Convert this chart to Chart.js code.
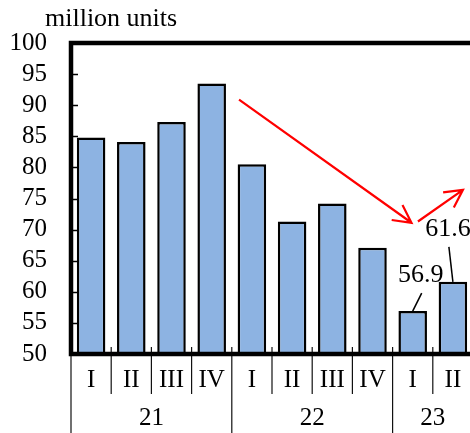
<!DOCTYPE html>
<html>
<head>
<meta charset="utf-8">
<script src="https://cdn.jsdelivr.net/npm/chart.js@4/dist/chart.umd.min.js"></script>
<style>
  html, body { margin: 0; padding: 0; background: #fff; overflow: hidden; }
  #wrap { width: 480px; height: 433px; position: relative; }
</style>
</head>
<body>
<div id="wrap"><canvas id="c" width="480" height="433"></canvas></div>
<script>
// Quarterly sales, million units
const quarters = ['I', 'II', 'III', 'IV', 'I', 'II', 'III', 'IV', 'I', 'II'];
const yearLabels = ['21', '22', '23'];
const yearFirstIndex = [0, 4, 8];
const yearLastIndex = [3, 7, 9];
const sales = [84.8, 84.1, 87.3, 93.5, 80.5, 71.3, 74.2, 67.1, 56.9, 61.6];
const yMin = 50;
const yMax = 100;
const yStep = 5;
const calloutIndices = [8, 9];
// trend arrows in data space: [category index, value]
const arrowFrom = [[3.68, 90.9], [8.13, 71.3]];
const arrowTo = [[7.97, 71.1], [9.25, 76.4]];

const SERIF = '"Liberation Serif", "Times New Roman", serif';

const decorations = {
  id: 'decorations',
  afterDatasetsDraw(chart) {
    const ctx = chart.ctx;
    const area = chart.chartArea;
    const xs = chart.scales.x;
    const ys = chart.scales.y;
    const half = (xs.getPixelForValue(1) - xs.getPixelForValue(0)) / 2;
    ctx.save();

    // inward y ticks
    ctx.strokeStyle = '#000';
    ctx.lineWidth = 1.5;
    for (let v = yMin + yStep; v < yMax; v += yStep) {
      const py = Math.round(ys.getPixelForValue(v)) + 0.5;
      ctx.beginPath();
      ctx.moveTo(area.left, py);
      ctx.lineTo(area.left + 7, py);
      ctx.stroke();
    }

    // category boundaries: small ticks above the axis, separators below
    ctx.lineWidth = 1.2;
    ctx.strokeStyle = '#111';
    for (let i = 0; i <= quarters.length; i++) {
      const px = xs.getPixelForValue(i) - half;
      const isYearEdge = yearFirstIndex.includes(i) || i === quarters.length;
      ctx.beginPath();
      ctx.moveTo(px, area.bottom - 7);
      ctx.lineTo(px, area.bottom);
      ctx.stroke();
      ctx.beginPath();
      ctx.moveTo(px, area.bottom);
      ctx.lineTo(px, isYearEdge ? chart.height : area.bottom + 40);
      ctx.stroke();
    }

    // year labels
    ctx.fillStyle = '#000';
    ctx.font = '25px ' + SERIF;
    ctx.textAlign = 'center';
    ctx.textBaseline = 'middle';
    yearLabels.forEach((lab, k) => {
      const cx = (xs.getPixelForValue(yearFirstIndex[k]) + xs.getPixelForValue(yearLastIndex[k])) / 2;
      ctx.fillText(lab, cx, area.bottom + 64);
    });

    // plot frame
    ctx.strokeStyle = '#000';
    ctx.lineWidth = 4.5;
    ctx.lineCap = 'square';
    ctx.beginPath();
    ctx.moveTo(area.right, area.top);
    ctx.lineTo(area.left, area.top);
    ctx.lineTo(area.left, area.bottom);
    ctx.lineTo(area.right, area.bottom);
    ctx.stroke();
    ctx.lineCap = 'butt';

    // value callouts with leader lines
    const meta = chart.getDatasetMeta(0);
    const placements = { 8: { tx: 8, ty: -36, lx: 9, ly: -18 }, 9: { tx: -5, ty: -53, lx: -4, ly: -35 } };
    ctx.font = '26px ' + SERIF;
    ctx.lineWidth = 1.5;
    calloutIndices.forEach(i => {
      const bar = meta.data[i];
      const p = placements[i];
      ctx.beginPath();
      ctx.moveTo(bar.x + p.lx, bar.y + p.ly);
      ctx.lineTo(bar.x, bar.y);
      ctx.stroke();
      ctx.fillText(sales[i].toFixed(1), bar.x + p.tx, bar.y + p.ty);
    });

    // red trend arrows
    ctx.strokeStyle = '#ff0000';
    ctx.lineWidth = 2.2;
    ctx.lineJoin = 'miter';
    for (let k = 0; k < arrowFrom.length; k++) {
      const x1 = xs.getPixelForValue(arrowFrom[k][0]);
      const y1 = ys.getPixelForValue(arrowFrom[k][1]);
      const x2 = xs.getPixelForValue(arrowTo[k][0]);
      const y2 = ys.getPixelForValue(arrowTo[k][1]);
      const ang = Math.atan2(y2 - y1, x2 - x1);
      const head = 20, spread = Math.PI / 6.5;
      ctx.beginPath();
      ctx.moveTo(x1, y1);
      ctx.lineTo(x2, y2);
      ctx.moveTo(x2 - head * Math.cos(ang - spread), y2 - head * Math.sin(ang - spread));
      ctx.lineTo(x2, y2);
      ctx.lineTo(x2 - head * Math.cos(ang + spread), y2 - head * Math.sin(ang + spread));
      ctx.stroke();
    }

    // unit caption
    ctx.fillStyle = '#000';
    ctx.font = '26px ' + SERIF;
    ctx.textAlign = 'left';
    ctx.textBaseline = 'alphabetic';
    ctx.fillText('million units', 45, 26);
    ctx.restore();
  }
};

new Chart(document.getElementById('c'), {
  type: 'bar',
  data: {
    labels: quarters,
    datasets: [{
      data: sales,
      backgroundColor: '#8DB3E2',
      borderColor: '#000',
      borderWidth: 2.5,
      barPercentage: 0.71,
      categoryPercentage: 1
    }]
  },
  options: {
    responsive: false,
    devicePixelRatio: 1,
    animation: false,
    layout: { padding: { top: 43, right: 7, left: 0, bottom: 0 } },
    plugins: { legend: { display: false }, tooltip: { enabled: false }, title: { display: false } },
    scales: {
      x: {
        offset: true,
        grid: { display: false, drawTicks: false },
        border: { display: false },
        ticks: {
          color: '#000',
          font: { family: SERIF, size: 25 },
          padding: 11,
          maxRotation: 0,
          autoSkip: false
        },
        afterFit(s) { s.height = 79; }
      },
      y: {
        min: yMin,
        max: yMax,
        grid: { display: false, drawTicks: false },
        border: { display: false },
        ticks: {
          stepSize: yStep,
          autoSkip: false,
          color: '#000',
          font: { family: SERIF, size: 25 },
          padding: 24
        },
        afterFit(s) { s.width = 71; }
      }
    }
  },
  plugins: [decorations]
});
</script>
</body>
</html>
